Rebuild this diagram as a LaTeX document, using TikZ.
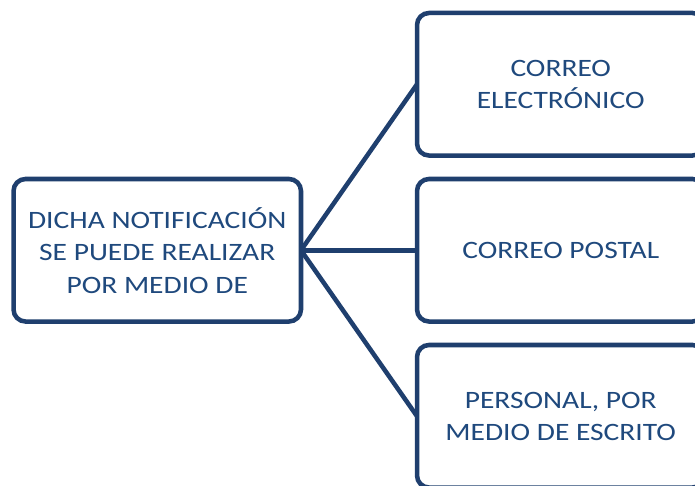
\documentclass[tikz,border=0pt]{standalone}
\usepackage{fontspec}
\setmainfont{Carlito}[FakeStretch=1.18]
\definecolor{navy}{HTML}{1F3F6E}
\definecolor{txt}{HTML}{1F497D}
\begin{document}
\begin{tikzpicture}[x=0.75pt,y=-0.75pt,
  box/.style={draw=navy, line width=3.4pt, rounded corners=9pt, fill=white,
    minimum width=215.6pt, minimum height=106.9pt, inner sep=0pt, outer sep=0pt,
    align=center, text=txt, font=\fontsize{18.75}{24.4}\selectfont},
  conn/.style={draw=navy, line width=3.4pt}]
\useasboundingbox (0,0) rectangle (695,485);
\clip (0,0) rectangle (695,485);
\node[box] (src) at (157.25,250.25) {DICHA NOTIFICACIÓN\\SE PUEDE REALIZAR\\POR MEDIO DE};
\node[box] (top) at (560.75,84.25) {CORREO\\ELECTRÓNICO};
\node[box] (mid) at (560.75,250.25) {CORREO POSTAL};
\node[box] (bot) at (560.75,416.25) {PERSONAL, POR\\MEDIO DE ESCRITO};
\draw[conn] (src.east) -- (top.west);
\draw[conn] (src.east) -- (mid.west);
\draw[conn] (src.east) -- (bot.west);
\end{tikzpicture}
\end{document}
